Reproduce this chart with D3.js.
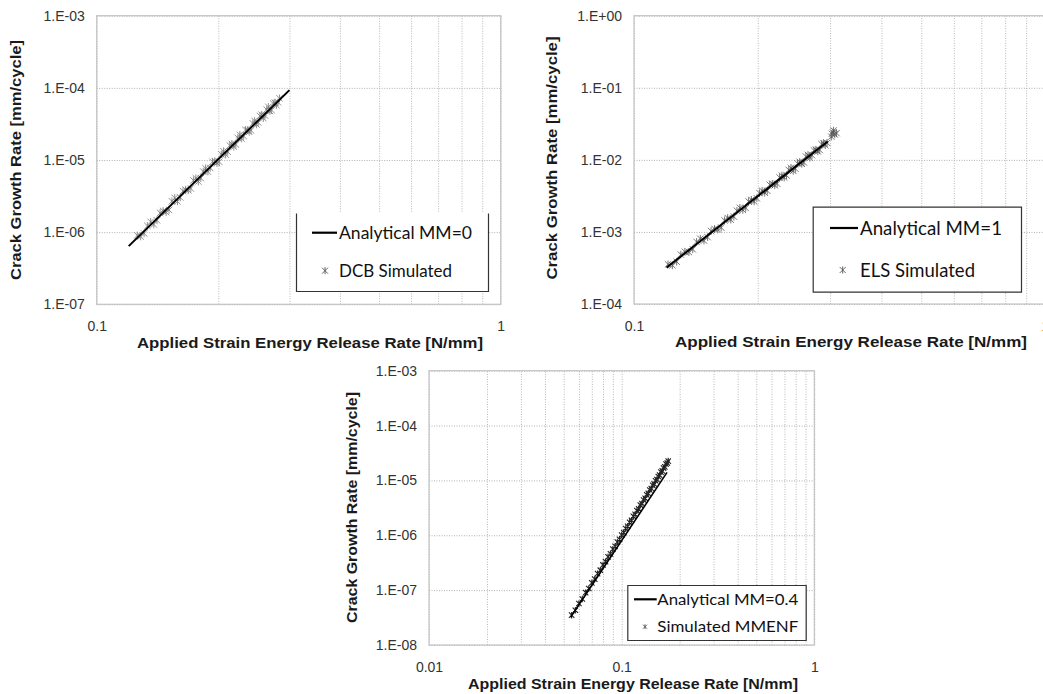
<!DOCTYPE html>
<html>
<head>
  <meta charset="utf-8">
  <script src="https://d3js.org/d3.v7.min.js"></script>
  <style type="text/css">
    body { margin: 0; background: #fff; }
    .tick-label { font-family: "Liberation Sans", Arial, sans-serif; font-size: 14px; fill: #333; }
    .axis-title { font-family: "Liberation Sans", Arial, sans-serif; font-size: 15px; font-weight: bold; fill: #1a1a1a; }
    .legend-text { font-family: Lato, "Open Sans", sans-serif; font-size: 18px; fill: #111; }
  </style>
</head>
<body>
<script type="text/javascript">
  // ---- data ----
  // DCB, mode mixity 0
  var dcbLineG = [0.12, 0.30];
  var dcbLineRate = [6.4e-7, 9.3e-5];
  var dcbSimG = [0.126,0.131,0.136,0.141,0.146,0.151,0.156,0.161,0.166,0.171,0.176,0.181,0.186,0.191,0.196,0.201,
                 0.206,0.211,0.216,0.221,0.226,0.231,0.236,0.241,0.246,0.251,0.256,0.261,0.266,0.271,0.276,0.281,
                 0.1285,0.1335,0.1385,0.1435,0.1485,0.1535,0.1585,0.1635,0.1685,0.1735,0.1785,0.1835,0.1885,0.1935,0.1985,0.2035,
                 0.2085,0.2135,0.2185,0.2235,0.2285,0.2335,0.2385,0.2435,0.2485,0.2535,0.2585,0.2635,0.2685,0.2735,0.2785,0.2835];
  var dcbSimRate = [9.0e-7,9.6e-7,1.39e-6,1.46e-6,1.97e-6,2.03e-6,2.98e-6,3.03e-6,3.88e-6,4.03e-6,5.58e-6,5.60e-6,7.67e-6,7.75e-6,9.65e-6,9.45e-6,
                    1.32e-5,1.30e-5,1.67e-5,1.64e-5,2.23e-5,2.15e-5,2.60e-5,2.57e-5,3.48e-5,3.31e-5,4.23e-5,4.13e-5,5.45e-5,4.91e-5,6.24e-5,6.31e-5,
                    8.7e-7,1.22e-6,1.28e-6,1.85e-6,1.90e-6,2.68e-6,2.67e-6,3.71e-6,3.80e-6,5.21e-6,5.03e-6,6.93e-6,6.91e-6,9.43e-6,9.05e-6,1.20e-5,
                    1.19e-5,1.59e-5,1.53e-5,2.02e-5,1.98e-5,2.61e-5,2.46e-5,3.22e-5,3.11e-5,4.08e-5,3.80e-5,4.99e-5,4.77e-5,6.06e-5,5.75e-5,7.16e-5];

  // ELS, mode mixity 1
  var elsLineG = [0.12, 0.296];
  var elsLineRate = [3.2e-4, 1.8e-2];
  var elsSimG = [0.121,0.127,0.133,0.139,0.145,0.151,0.157,0.163,0.169,0.175,0.181,0.187,0.193,0.199,0.205,0.211,0.217,0.223,
                 0.229,0.235,0.241,0.247,0.253,0.259,0.265,0.271,0.277,0.283,0.289,0.295,0.302,0.305,0.308,0.306,0.311,0.303,
                 0.124,0.130,0.136,0.142,0.148,0.154,0.160,0.166,0.172,0.178,0.184,0.190,0.196,0.202,0.208,0.214,0.220,0.226,
                 0.232,0.238,0.244,0.250,0.256,0.262,0.268,0.274,0.280,0.286,0.292];
  var elsSimRate = [3.55e-4,3.87e-4,5.31e-4,5.74e-4,8.04e-4,8.47e-4,1.10e-3,1.15e-3,1.56e-3,1.63e-3,2.16e-3,2.15e-3,2.79e-3,2.93e-3,3.73e-3,3.72e-3,4.67e-3,4.67e-3,
                    6.05e-3,6.09e-3,7.74e-3,7.53e-3,9.36e-3,9.20e-3,1.17e-2,1.16e-2,1.38e-2,1.37e-2,1.71e-2,1.72e-2,2.1e-2,2.4e-2,2.25e-2,2.55e-2,2.35e-2,2.3e-2,
                    3.44e-4,4.85e-4,5.25e-4,7.26e-4,7.58e-4,1.03e-3,1.08e-3,1.45e-3,1.48e-3,1.97e-3,2.02e-3,2.65e-3,2.65e-3,3.45e-3,3.50e-3,4.51e-3,4.44e-3,5.71e-3,
                    5.69e-3,7.25e-3,7.04e-3,8.95e-3,8.82e-3,1.11e-2,1.07e-2,1.35e-2,1.31e-2,1.65e-2,1.60e-2];

  // MMENF, mode mixity 0.4
  var mmLineG = [0.0543, 0.172];
  var mmLineRate = [3.2e-8, 1.4e-5];
  var mmSimG = [0.055,0.0575,0.060,0.0625,0.065,0.0675,0.070,0.0725,0.075,0.0775,0.080,0.0825,0.085,0.0875,0.090,0.0925,
                0.095,0.0975,0.100,0.1025,0.105,0.1075,0.110,0.1125,0.115,0.1175,0.120,0.1225,0.125,0.1275,0.130,0.1325,
                0.135,0.1375,0.140,0.1425,0.145,0.1475,0.150,0.1525,0.155,0.1575,0.160,0.1625,0.165,0.1675,0.170,0.1725,0.1745];
  var mmSimRate = [3.5e-8,4.3e-8,5.7e-8,6.9e-8,9.0e-8,1.07e-7,1.36e-7,1.59e-7,2.0e-7,2.31e-7,2.88e-7,3.30e-7,4.05e-7,4.59e-7,5.58e-7,6.27e-7,
                   7.55e-7,8.45e-7,1.01e-6,1.12e-6,1.33e-6,1.46e-6,1.72e-6,1.88e-6,2.21e-6,2.40e-6,2.81e-6,3.04e-6,3.54e-6,3.80e-6,4.40e-6,4.72e-6,
                   5.45e-6,5.82e-6,6.68e-6,7.12e-6,8.15e-6,8.62e-6,9.85e-6,1.04e-5,1.18e-5,1.25e-5,1.42e-5,1.49e-5,1.68e-5,1.77e-5,1.99e-5,2.08e-5,2.25e-5];

  // axis ticks
  var xTicksTop = [0.1, 1];
  var xTicksBottom = [0.01, 0.1, 1];
  var yTicksDcb = [1e-7, 1e-6, 1e-5, 1e-4, 1e-3];
  var yTicksEls = [1e-4, 1e-3, 1e-2, 1e-1, 1];
  var yTicksMm = [1e-8, 1e-7, 1e-6, 1e-5, 1e-4, 1e-3];

  var xTitle = "Applied Strain Energy Release Rate [N/mm]";
  var yTitle = "Crack Growth Rate  [mm/cycle]";

  var svg = d3.select("body").append("svg")
      .attr("width", 1043)
      .attr("height", 694);

  // Excel style "1.E-05"
  function expFormat(d) {
    var e = Math.round(Math.log10(d));
    return "1.E" + (e < 0 ? "-" : "+") + String(Math.abs(e)).padStart(2, "0");
  }

  // star marker: x with a vertical bar
  function starPath(s) {
    return "M" + (-s) + "," + (-s) + "L" + s + "," + s +
           "M" + (-s) + "," + s + "L" + s + "," + (-s) +
           "M0," + (-s * 1.2) + "L0," + (s * 1.2);
  }

  function drawPanel(o) {
    var x = d3.scaleLog().domain([o.xTicks[0], o.xTicks[o.xTicks.length - 1]]).range([o.left, o.right]);
    var y = d3.scaleLog().domain([o.yTicks[0], o.yTicks[o.yTicks.length - 1]]).range([o.bottom, o.top]);
    var h = o.bottom - o.top, w = o.right - o.left;
    var g = svg.append("g");

    // gridlines
    g.append("g")
      .attr("transform", "translate(0," + o.bottom + ")")
      .call(d3.axisBottom(x).tickValues(x.ticks()).tickSize(-h).tickFormat(""))
      .call(function(s) { s.select(".domain").remove(); })
      .selectAll("line")
        .attr("stroke", "#b8b8b8")
        .attr("stroke-dasharray", "1,1.5");
    g.append("g")
      .attr("transform", "translate(" + o.left + ",0)")
      .call(d3.axisLeft(y).tickValues(o.yTicks).tickSize(-w).tickFormat(""))
      .call(function(s) { s.select(".domain").remove(); })
      .selectAll("line")
        .attr("stroke", "#b0b0b0")
        .attr("stroke-dasharray", "1,1.5");

    // plot border
    g.append("rect")
      .attr("x", o.left).attr("y", o.top)
      .attr("width", w).attr("height", h)
      .attr("fill", "none")
      .attr("stroke", "#c4c4c4")
      .attr("stroke-width", 1.2);

    // tick labels
    g.append("g")
      .attr("transform", "translate(" + o.left + ",0)")
      .call(d3.axisLeft(y).tickValues(o.yTicks).tickSize(0).tickPadding(12).tickFormat(expFormat))
      .call(function(s) { s.select(".domain").remove(); })
      .selectAll("text")
        .attr("class", "tick-label")
        .attr("font-family", null).attr("font-size", null);
    g.append("g")
      .attr("transform", "translate(0," + o.bottom + ")")
      .call(d3.axisBottom(x).tickValues(o.xTicks).tickSize(0).tickPadding(17).tickFormat(d3.format("~g")))
      .call(function(s) { s.select(".domain").remove(); })
      .selectAll("text")
        .attr("class", "tick-label")
        .attr("font-family", null).attr("font-size", null);

    // axis titles
    svg.append("text")
      .attr("class", "axis-title")
      .attr("x", o.xTitle[0]).attr("y", o.xTitle[1])
      .attr("text-anchor", "middle")
      .attr("textLength", o.xTitle[2])
      .attr("lengthAdjust", "spacingAndGlyphs")
      .text(xTitle);
    svg.append("text")
      .attr("class", "axis-title")
      .attr("transform", "translate(" + o.yTitle[0] + "," + o.yTitle[1] + ") rotate(-90)")
      .attr("text-anchor", "middle")
      .attr("textLength", o.yTitle[2])
      .attr("lengthAdjust", "spacingAndGlyphs")
      .text(yTitle);

    // simulated points
    g.append("g").selectAll("path")
      .data(o.simG.map(function(d, i) { return [d, o.simRate[i]]; }))
      .join("path")
        .attr("transform", function(d) { return "translate(" + x(d[0]) + "," + y(d[1]) + ")"; })
        .attr("d", starPath(o.markerSize))
        .attr("fill", "none")
        .attr("stroke", o.markerColor)
        .attr("stroke-width", o.markerStroke);

    // analytical line
    g.append("path")
      .datum(o.lineG.map(function(d, i) { return [d, o.lineRate[i]]; }))
      .attr("d", d3.line().x(function(d) { return x(d[0]); }).y(function(d) { return y(d[1]); }))
      .attr("fill", "none")
      .attr("stroke", "#000")
      .attr("stroke-width", o.lineWidth);

    // legend
    var L = o.legend;
    var lg = svg.append("g");
    lg.append("rect")
      .attr("x", L.x).attr("y", L.y).attr("width", L.w).attr("height", L.h)
      .attr("fill", "#fff");
    var bx = L.x + 0.5, by = L.y + 0.5, bw = L.w, bh = L.h;
    lg.append("path")
      .attr("d", L.openTop
        ? "M" + bx + "," + by + "V" + (by + bh) + "H" + (bx + bw) + "V" + by
        : "M" + bx + "," + by + "V" + (by + bh) + "H" + (bx + bw) + "V" + by + "Z")
      .attr("fill", "none")
      .attr("stroke", "#333")
      .attr("stroke-width", 1.2);
    lg.append("line")
      .attr("x1", L.line[0]).attr("x2", L.line[1])
      .attr("y1", L.line[2]).attr("y2", L.line[2])
      .attr("stroke", "#000").attr("stroke-width", 2.2);
    lg.append("path")
      .attr("transform", "translate(" + L.marker[0] + "," + L.marker[1] + ")")
      .attr("d", starPath(L.marker[2]))
      .attr("fill", "none").attr("stroke", "#555").attr("stroke-width", 0.9);
    L.texts.forEach(function(t) {
      lg.append("text")
        .attr("class", "legend-text")
        .attr("x", t[0]).attr("y", t[1])
        .attr("textLength", t[3])
        .attr("lengthAdjust", "spacingAndGlyphs")
        .style("font-size", L.fontSize + "px")
        .text(t[2]);
    });
  }

  drawPanel({
    left: 96.7, right: 500.7, top: 15.7, bottom: 304.3,
    xTicks: xTicksTop, yTicks: yTicksDcb,
    simG: dcbSimG, simRate: dcbSimRate, lineG: dcbLineG, lineRate: dcbLineRate,
    markerSize: 3.2, markerColor: "#777", markerStroke: 0.8, lineWidth: 2,
    xTitle: [310, 348, 346], yTitle: [21, 160, 240],
    legend: { x: 296, y: 213, w: 192, h: 78, openTop: true, fontSize: 18,
      line: [312, 337, 232.7], marker: [325, 270.7, 3],
      texts: [[339, 238.5, "Analytical MM=0", 133], [339, 277.3, "DCB Simulated", 113]] }
  });

  drawPanel({
    left: 634, right: 1045, top: 15.7, bottom: 304,
    xTicks: xTicksTop, yTicks: yTicksEls,
    simG: elsSimG, simRate: elsSimRate, lineG: elsLineG, lineRate: elsLineRate,
    markerSize: 3.2, markerColor: "#555", markerStroke: 0.8, lineWidth: 2,
    xTitle: [851, 347, 352], yTitle: [557, 158, 243],
    legend: { x: 812.7, y: 206.7, w: 208.3, h: 85, openTop: false, fontSize: 19,
      line: [830, 858, 228], marker: [842.7, 270, 3],
      texts: [[860, 235, "Analytical MM=1", 142], [860, 276.7, "ELS Simulated", 115]] }
  });

  drawPanel({
    left: 429, right: 814.3, top: 370.7, bottom: 645,
    xTicks: xTicksBottom, yTicks: yTicksMm,
    simG: mmSimG, simRate: mmSimRate, lineG: mmLineG, lineRate: mmLineRate,
    markerSize: 2.7, markerColor: "#222", markerStroke: 1.1, lineWidth: 1.6,
    xTitle: [633, 689, 330], yTitle: [357, 507.5, 231],
    legend: { x: 627.3, y: 585, w: 178.4, h: 55, openTop: false, fontSize: 16,
      line: [634, 656.7, 599.3], marker: [645, 626.7, 2],
      texts: [[657.3, 605, "Analytical MM=0.4", 141], [657.3, 632.3, "Simulated MMENF", 141]] }
  });
</script>
</body>
</html>
